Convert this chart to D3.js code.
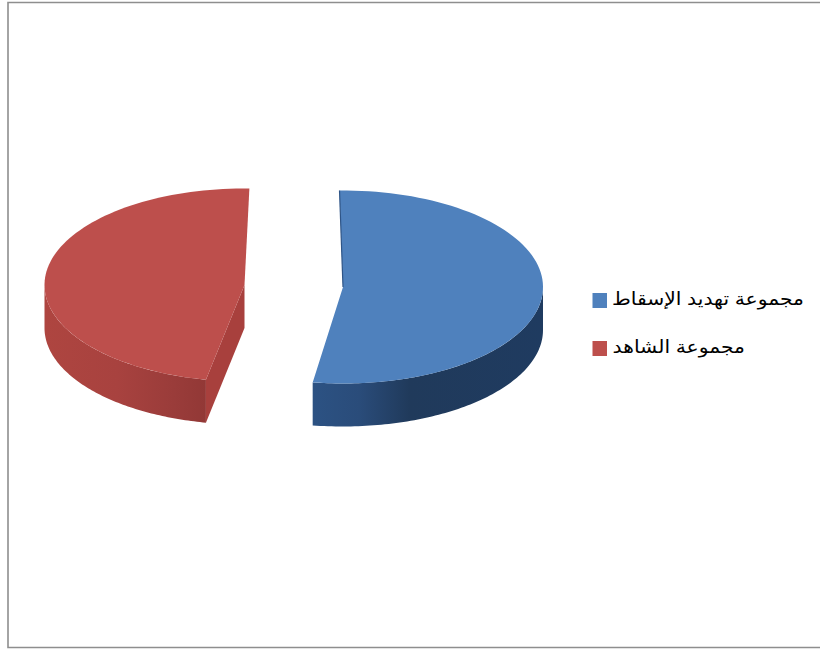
<!DOCTYPE html>
<html lang="ar">
<head>
<meta charset="utf-8">
<script src="https://cdn.jsdelivr.net/npm/d3@7"></script>
<style>
  html, body { margin: 0; padding: 0; background: #fff; }
  svg { display: block; }
  .legend-label { font-family: "Liberation Sans", "DejaVu Sans", sans-serif; fill: #000; direction: rtl; }
</style>
</head>
<body>
<svg id="chart" width="820" height="650"></svg>
<script>
// Two-group share of participants, drawn as an exploded 3D pie
const groups = ["مجموعة تهديد الإسقاط", "مجموعة الشاهد"];
const shares = [52.7, 47.3];
const topColors = ["#4f81bd", "#bd4f4c"];

const width = 820, height = 650;
const radiusX = 200, radiusY = 96.5, depth = 43;
const sliceCenters = [[343, 287], [244.5, 285]]; // each slice is pulled apart sideways
const sliceTilt = [-1, 1.4];                     // degrees of perspective lean per slice

const svg = d3.select("#chart");
const defs = svg.append("defs");

// Frame: top, left and bottom edges only; the right edge runs off the page
svg.append("path")
  .attr("d", d3.line()([[width, 2.5], [8, 2.5], [8, 647.5], [width, 647.5]]))
  .attr("fill", "none")
  .attr("stroke", "#8e8e8e")
  .attr("stroke-width", 1.6);

const arcs = d3.pie().value(d => d).sort(null)(shares);
const rad = d => d * Math.PI / 180;

// Maps a pie angle (clockwise from twelve o'clock) onto the tilted rim
function rimPoint(i, angle, drop = 0) {
  const [cx, cy] = sliceCenters[i];
  return [cx + radiusX * Math.sin(angle), cy - radiusY * Math.cos(angle) + drop];
}
function rimRun(i, from, to, drop) {
  const steps = 90;
  return d3.range(steps + 1).map(k => rimPoint(i, from + (to - from) * k / steps, drop));
}
const line = d3.line();

function wallGradient(id, stops, x1, x2) {
  const g = defs.append("linearGradient")
    .attr("id", id)
    .attr("gradientUnits", "userSpaceOnUse")
    .attr("x1", x1).attr("x2", x2).attr("y1", 0).attr("y2", 0);
  stops.forEach(([o, c]) => g.append("stop").attr("offset", o).attr("stop-color", c));
}
wallGradient("wall-blue", [[0, "#2c5283"], [0.2, "#2a4c7a"], [0.42, "#203a5b"], [1, "#1f3b60"]], 313, 543);
wallGradient("wall-red", [[0, "#ae4540"], [0.45, "#a8423f"], [0.8, "#9a3c3a"], [1, "#923836"]], 45, 206);

const tilt = i => rad(sliceTilt[i]);

// Red slice: rim wall, cut face, then the top
{
  const i = 1, a = arcs[i], s = a.startAngle + tilt(i), e = a.endAngle + tilt(i);
  const [cx, cy] = sliceCenters[i];
  const wallEnd = rad(270);
  const wall = rimRun(i, s, wallEnd, 0).concat(rimRun(i, wallEnd, s, depth));
  svg.append("path").attr("d", line(wall) + "Z").attr("fill", "url(#wall-red)");
  const front = rimPoint(i, s);
  const cut = [[cx, cy], front, [front[0], front[1] + depth], [cx, cy + depth]];
  svg.append("path").attr("d", line(cut) + "Z").attr("fill", "#a8403d");
  const top = [[cx, cy]].concat(rimRun(i, s, e, 0));
  svg.append("path").attr("d", line(top) + "Z").attr("fill", topColors[i]);
}

// Blue slice: rim wall, then the top with its dark sliver along the upper cut
{
  const i = 0, a = arcs[i], s = a.startAngle + tilt(i), e = a.endAngle + tilt(i);
  const [cx, cy] = sliceCenters[i];
  const wallStart = rad(90);
  const wall = rimRun(i, wallStart, e, 0).concat(rimRun(i, e, wallStart, depth));
  svg.append("path").attr("d", line(wall) + "Z").attr("fill", "url(#wall-blue)");
  const top = [[cx, cy]].concat(rimRun(i, s, e, 0));
  svg.append("path").attr("d", line(top) + "Z").attr("fill", topColors[i]);
  svg.append("path")
    .attr("d", line([rimPoint(i, s), [cx, cy]]))
    .attr("stroke", "#2f5587").attr("stroke-width", 1.2).attr("fill", "none");
}

// Legend: the labels are widened a little around their right edge
const legendRow = d3.scalePoint().domain(groups).range([300.5, 348.5]);
const labelRight = { [groups[0]]: 804, [groups[1]]: 745 };
const legend = svg.selectAll("g.legend-item").data(groups).join("g")
  .attr("class", "legend-item")
  .attr("transform", d => `translate(0,${legendRow(d)})`);
legend.append("rect")
  .attr("x", 592.5).attr("y", -7.5).attr("width", 14.5).attr("height", 15)
  .attr("fill", (d, i) => topColors[i]);
legend.append("text")
  .attr("class", "legend-label")
  .attr("transform", d => `translate(${labelRight[d]},4) scale(1.13,1)`)
  .attr("font-size", 18)
  .attr("text-anchor", "start")
  .text(d => d);
</script>
</body>
</html>
